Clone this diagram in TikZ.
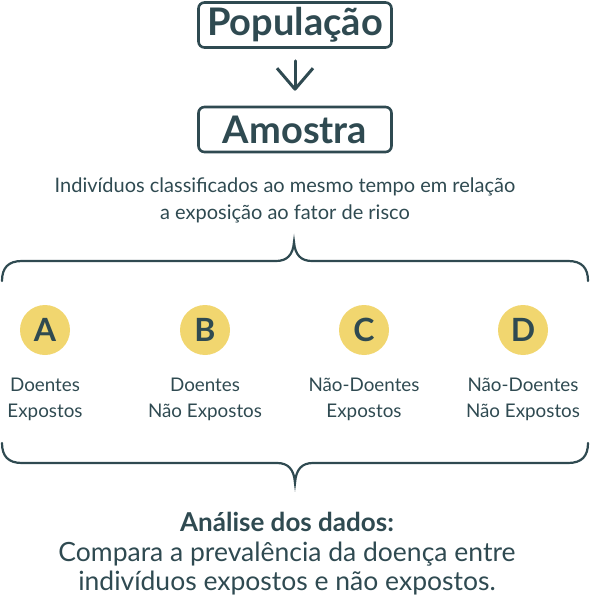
\documentclass[tikz,border=0pt]{standalone}
\usepackage{fontspec}
\setmainfont{Lato}
\usetikzlibrary{arrows.meta}

\definecolor{ink}{HTML}{2F4A51}
\definecolor{sun}{HTML}{F1D66F}

\tikzset{
  box/.style={shape=rectangle,draw=ink,rounded corners=6pt,line width=2.6pt,
    minimum width=193pt,minimum height=45pt,inner sep=0pt,text=ink,
    font=\fontsize{38}{42}\selectfont\bfseries},
  letter/.style={shape=circle,fill=sun,minimum size=50pt,inner sep=0pt,
    text=ink,font=\fontsize{32}{36}\selectfont\bfseries},
  group/.style={align=center,text=ink,font=\fontsize{18.8}{26}\selectfont},
  brace/.style={draw=ink,line width=2.2pt,line cap=round}
}

\begin{document}
\begin{tikzpicture}[x=1pt,y=-1pt]
\useasboundingbox (0,0) rectangle (590,601);

\node[box] (0) at (295,25) {População};
\node[box] (1) at (295,129.5) {Amostra};
\path [draw=ink,line width=3pt,line cap=round,shorten <=12pt,shorten >=15pt,
  -{Straight Barb[length=21pt,width=36pt,line width=3pt,line join=round]}] (0) -- (1);

\node[group,font=\fontsize{20}{27}\selectfont] (2) at (285,200.5)
  {Indivíduos classificados ao mesmo tempo em relação\\a exposição ao fator de risco};

% chave de cima
\coordinate (t) at (294,242);
\path [brace] (2,281) .. controls (2,268) and (8,261) .. (22,261) -- (276,261)
  .. controls (287,261) and (293,255) .. (t)
  .. controls (295,255) and (301,261) .. (312,261) -- (568,261)
  .. controls (582,261) and (588,268) .. (588,281);

\node[letter] (3) at (45,330) {A};
\node[letter] (4) at (205,330) {B};
\node[letter] (5) at (364,330) {C};
\node[letter] (6) at (523,330) {D};

\node[group] (7) at (45,399.5) {Doentes\\Expostos};
\node[group] (8) at (205,399.5) {Doentes\\Não Expostos};
\node[group] (9) at (364,399.5) {Não-Doentes\\Expostos};
\node[group] (10) at (523,399.5) {Não-Doentes\\Não Expostos};

% chave de baixo
\coordinate (b) at (295,483);
\path [brace] (2,443) .. controls (2,456) and (8,463) .. (22,463) -- (277,463)
  .. controls (288,463) and (294,469) .. (b)
  .. controls (296,469) and (302,463) .. (313,463) -- (568,463)
  .. controls (582,463) and (588,456) .. (588,443);

\node[text=ink,font=\fontsize{26}{30}\selectfont\bfseries] (11) at (287,522) {Análise dos dados:};
\node[text=ink,font=\fontsize{26.5}{30}\selectfont] (12) at (287,554) {Compara a prevalência da doença entre};
\node[text=ink,font=\fontsize{26.5}{30}\selectfont] (13) at (287,583) {indivíduos expostos e não expostos.};
\end{tikzpicture}
\end{document}
